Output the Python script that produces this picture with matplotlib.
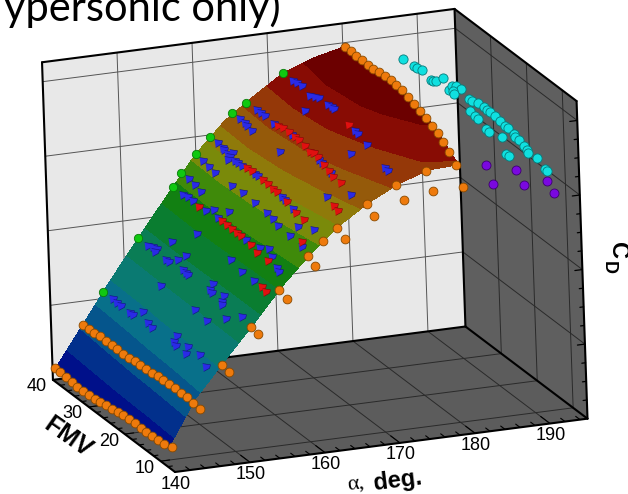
import numpy as np
import matplotlib
matplotlib.use('Agg')
import matplotlib.pyplot as plt
from matplotlib.patches import Polygon

# fitted surface, CD for each FMV row (low to high) and alpha column
alpha_grid = np.array([140.4, 144, 148, 152, 156, 160, 164, 168, 172, 176, 180])
fmv_grid = np.array([8, 16, 24, 32, 40])
cd_grid = np.array([
    [.15, .46, .70, .935, 1.18, 1.39, 1.565, 1.70, 1.805, 1.875, 1.885],
    [.13, .43, .69, .935, 1.19, 1.43, 1.62, 1.77, 1.88, 1.99, 2.05],
    [.12, .41, .68, .94, 1.21, 1.47, 1.67, 1.83, 1.96, 2.06, 2.125],
    [.10, .38, .66, .94, 1.22, 1.49, 1.70, 1.85, 1.99, 2.07, 2.11],
    [.08, .35, .65, .935, 1.21, 1.48, 1.69, 1.84, 1.977, 2.055, 2.105]])
band_levels = [0, .20, .34, .50, .66, .82, 1.0, 1.16, 1.30, 1.44, 1.56, 1.66, 1.78, 1.90, 2.03, 2.2]
band_colors = ['#00108a', '#02308c', '#05558c', '#08708a', '#0a7a72', '#0a7d55', '#0a7d30', '#128012',
               '#3f8a0a', '#7a8a0a', '#8f7a0a', '#955a0a', '#953808', '#880c04', '#6c0000']

blue_alpha = [171.9,171.9,172.0,171.6,171.9,172.1,170.0,172.2,172.3,172.3,172.3,172.3,172.2,170.2,172.0,172.0,167.2,167.2,167.1,165.1,167.1,161.8,165.1,165.0,164.9,164.8,166.9,166.9,166.9,166.8,167.1,165.0,162.0,161.9,161.8,161.7,162.0,161.6,161.2,161.5,161.6,161.6,161.8,161.9,162.0,162.0,161.9,159.9,159.8,159.6,158.1,157.9,157.8,159.7,159.8,159.8,159.9,159.9,159.7,161.0,159.8,156.8,156.9,156.8,156.8,157.3,157.9,157.0,157.1,157.3,157.8,154.9,153.3,151.9,152.1,
              152.1,159.8,151.9,151.9,151.9,152.4,153.1,157.4,155.0,154.9,157.0,156.8,152.0,152.0,152.0,154.9,150.0,152.6,152.1,152.0,152.4,151.9,151.7,147.1,147.0,147.0,146.9,146.9,147.5,147.0,146.9,150.0,149.9,151.0,151.9,147.4,146.9,146.7,147.2,146.7,147.2,146.7]
blue_fmv = [37.0,36.1,34.8,31.7,30.9,30.3,29.9,28.0,27.2,26.6,20.7,19.9,17.3,17.6,11.9,11.1,20.3,19.4,16.9,13.8,11.2,10.9,38.0,36.5,35.7,34.0,37.0,35.9,34.7,31.9,27.7,26.6,37.8,36.2,35.7,34.4,33.7,33.6,33.5,32.2,31.4,30.4,27.2,26.5,20.0,19.2,16.8,37.7,35.8,33.9,38.0,36.1,34.1,29.3,26.5,23.2,20.0,18.3,16.7,13.6,13.5,37.1,35.9,34.4,30.9,29.5,26.6,27.8,20.2,16.9,15.2,29.6,33.2,37.2,36.1,
            35.1,10.2,35.1,32.0,31.2,29.8,28.9,13.7,20.3,16.9,11.4,10.5,27.7,26.7,26.1,13.6,29.7,20.5,20.2,19.5,17.0,16.6,16.2,37.2,35.9,34.8,32.2,31.3,29.8,27.4,25.9,20.3,16.7,13.6,11.0,20.1,19.9,19.0,16.6,16.1,13.3,10.6]
blue_cd = [1.977,1.981,1.985,1.974,1.981,1.985,1.913,1.979,1.979,1.977,1.934,1.927,1.899,1.844,1.841,1.835,1.769,1.764,1.743,1.644,1.695,1.487,1.733,1.734,1.729,1.727,1.804,1.805,1.806,1.804,1.805,1.718,1.586,1.583,1.578,1.575,1.594,1.570,1.553,1.570,1.570,1.569,1.571,1.571,1.545,1.540,1.523,1.474,1.468,1.463,1.352,1.346,1.337,1.461,1.463,1.455,1.445,1.435,1.418,1.462,1.407,1.264,1.273,1.272,1.269,1.301,1.339,1.279,1.268,1.273,1.295,1.144,1.028,.931,.943,
           .948,1.392,.928,.930,.932,.970,1.013,1.270,1.137,1.118,1.239,1.228,.943,.940,.938,1.117,.803,.978,.943,.937,.961,.930,.918,.584,.581,.582,.583,.585,.632,.604,.597,.813,.806,.873,.930,.648,.613,.603,.639,.604,.646,.617]

red_alpha = [172.2,167.2,167.3,167.2,167.1,167.0,167.1,164.9,164.9,166.9,167.1,167.2,167.2,167.2,167.1,167.1,167.3,161.8,161.9,161.9,161.9,161.9,162.0,161.9,161.8,161.8,156.7,157.0,157.0,157.0,157.0,157.0,157.0,160.2,156.9,156.9,154.9,154.8]
red_fmv = [22.2,22.0,20.8,18.9,17.4,16.0,14.2,11.6,10.4,31.1,30.0,28.6,26.9,25.9,24.1,22.6,21.9,29.3,28.1,25.1,23.8,22.4,21.4,18.6,15.8,13.7,32.5,26.7,25.3,23.9,22.6,21.5,18.7,10.9,16.7,13.8,11.4,10.1]
red_cd = [1.947,1.785,1.779,1.760,1.747,1.731,1.723,1.623,1.612,1.805,1.809,1.809,1.805,1.803,1.796,1.783,1.787,1.574,1.575,1.568,1.565,1.557,1.554,1.537,1.514,1.504,1.267,1.278,1.276,1.275,1.272,1.270,1.261,1.412,1.244,1.242,1.116,1.108]

# orange: three rows at fixed alpha, then the low FMV edge and the points just off it
row180_fmv = [39.4,37.7,36.3,34.6,33.0,31.6,29.9,28.2,26.5,25.2,23.5,21.9,20.2,18.6,16.9,15.3,13.6,12.3,10.7,8.8]
row180_cd = [2.118,2.122,2.113,2.117,2.114,2.112,2.123,2.127,2.131,2.122,2.119,2.101,2.082,2.064,2.046,2.020,2.002,1.964,1.924,1.867]
row144_fmv = [39.5,37.8,36.4,34.7,33.1,31.4,30.0,28.3,26.7,25.0,23.6,21.9,20.2,18.5,17.1,15.5,13.8,12.1,10.4,8.8]
row144_cd = [.375,.379,.377,.389,.385,.389,.388,.384,.388,.399,.398,.401,.405,.417,.415,.419,.423,.419,.423,.412]
row140_fmv = [40.2,38.8,37.1,35.4,34.1,32.4,30.7,29.0,27.6,25.9,24.3,22.6,21.2,19.5,17.8,16.2,14.8,13.1,11.4,9.7,7.5]
row140_cd = [.079,.077,.074,.071,.062,.065,.069,.073,.079,.090,.094,.105,.111,.115,.119,.115,.114,.118,.121,.125,.148]
edge_alpha = [147.7,151.7,155.6,159.6,161.6,163.5,167.6,171.6,175.6]
edge_cd = [.674,.919,1.157,1.372,1.466,1.545,1.689,1.798,1.870]
off_alpha = [143.6,147.6,151.6,155.7,159.5,163.6,167.6,171.6,175.5,179.5]
off_cd = [.426,.663,.908,1.130,1.340,1.505,1.642,1.729,1.766,1.767]

green_alpha = [171.9,166.9,165.0,162.0,160.0,157.9,156.8,151.9,147.0]
green_cd = [1.976,1.796,1.738,1.587,1.479,1.357,1.265,0.933,0.580]

cyan_alpha = [187.9,188.3,188.4,188.6,188.8,188.9,189.0,189.3,189.4,189.6,189.7,189.9,189.6,189.6,190.1,190.2,190.4,190.6,190.7,190.8,191.0,191.1,191.3,191.4,191.6,191.6,191.7,191.9,192.0,192.0,192.3,192.5,192.6,190.1,190.3,190.4,190.6,190.7,191.1,191.2,191.3]
cyan_fmv = [39.9,37.8,37.0,36.1,34.2,33.7,33.0,31.8,30.4,29.9,29.0,28.0,29.5,29.3,26.2,25.6,24.3,23.1,22.4,21.8,20.8,19.8,18.8,18.1,17.0,16.5,15.8,14.7,14.2,13.8,12.2,10.4,10.1,26.0,25.0,24.4,22.6,22.2,19.4,18.4,18.0]
cyan_cd = [1.971,1.957,1.958,1.958,1.921,1.924,1.934,1.979,1.919,1.960,1.973,1.968,1.930,1.908,1.933,1.929,1.937,1.930,1.922,1.916,1.910,1.889,1.877,1.875,1.851,1.839,1.828,1.803,1.788,1.774,1.768,1.717,1.709,1.853,1.832,1.823,1.784,1.770,1.788,1.684,1.674]

purple_fmv = [21.8,13.1,19.9,11.2,4.6,2.5]
purple_cd = [1.546,1.675,1.447,1.608,1.767,1.719]

alpha_ticks = [140, 150, 160, 170, 180, 190]
fmv_ticks = [10, 20, 30, 40]
cd_ticks = [0.534, 1.068, 1.602, 2.136]
a0, a1 = 140, 195
f0, f1 = 6, 40
c0, c1 = 0, 2.275


def project(alpha, fmv, cd):
    # the box is drawn without perspective, so one fixed oblique mapping is enough
    a = np.asarray(alpha, float) - a0
    f = np.asarray(fmv, float) - f0
    c = np.asarray(cd, float)
    return 175 + 7.5*a - 3.59*f - 4.8*c, 472 - 0.97*a - 2.71*f - 139.6*c


plt.rcParams['font.family'] = ['Liberation Sans', 'DejaVu Sans']
fig = plt.figure(figsize=(6.28, 4.94), dpi=100)
ax = fig.add_axes([0, 0, 1, 1])
ax.set_xlim(0, 628)
ax.set_ylim(494, 0)
ax.axis('off')


def wall(pts, color):
    x, y = project(*np.array(pts, float).T)
    ax.add_patch(Polygon(np.c_[x, y], closed=True, fc=color, ec='none', zorder=1))


def line3(p, q, lw=0.7, color='#2a2a2a', z=2):
    x, y = project(*np.array([p, q], float).T)
    ax.plot(x, y, color=color, lw=lw, zorder=z, solid_capstyle='round')


wall([(a0, f1, c0), (a1, f1, c0), (a1, f1, c1), (a0, f1, c1)], '#e8e8e8')
wall([(a1, f0, c0), (a1, f1, c0), (a1, f1, c1), (a1, f0, c1)], '#5f5f5f')
wall([(a0, f0, c0), (a1, f0, c0), (a1, f1, c0), (a0, f1, c0)], '#5c5c5c')

for t in alpha_ticks[1:]:
    line3((t, f1, c0), (t, f1, c1), color='#555555')
    line3((t, f0, c0), (t, f1, c0))
for t in fmv_ticks[:-1]:
    line3((a1, t, c0), (a1, t, c1))
    line3((a0, t, c0), (a1, t, c0))
for t in cd_ticks:
    line3((a0, f1, t), (a1, f1, t), color='#555555')
    line3((a1, f0, t), (a1, f1, t))

# box outline
for p, q in [((a0, f1, c0), (a0, f1, c1)), ((a0, f1, c1), (a1, f1, c1)), ((a1, f1, c1), (a1, f0, c1)),
             ((a1, f1, c1), (a1, f1, c0)), ((a1, f0, c1), (a1, f0, c0)), ((a0, f1, c0), (a1, f1, c0)),
             ((a1, f1, c0), (a1, f0, c0)), ((a0, f0, c0), (a1, f0, c0)), ((a0, f0, c0), (a0, f1, c0))]:
    line3(p, q, lw=1.5, color='black', z=3)

# tick marks
for t in np.arange(142, 195, 2):
    n = 2.6 if t % 10 == 0 else 1.2
    line3((t, f0, c0), (t, f0+n, c0), lw=0.8, color='black', z=3)
for t in np.arange(8, 40, 2):
    n = 1.2 if t % 10 == 0 else 0.6
    line3((a0, t, c0), (a0+n, t, c0), lw=0.8, color='black', z=3)
for i in range(1, 17):
    n = 1.0 if i % 4 == 0 else 0.5
    line3((a1, f0, i*cd_ticks[0]/4), (a1-n, f0, i*cd_ticks[0]/4), lw=0.9, color='black', z=3)

A, F = np.meshgrid(alpha_grid, fmv_grid)
X, Y = project(A, F, cd_grid)
ax.contourf(X, Y, cd_grid, levels=band_levels, colors=band_colors, zorder=4)

cone = [(-1, 1), (1, 0.7), (0.8, -0.2), (-0.7, -1)]


def cones(alpha, fmv, cd, color, edge):
    x, y = project(alpha, fmv, cd)
    ax.scatter(x, y, s=32, c=color, marker=cone, edgecolors=edge, linewidths=0.4, zorder=5)


def spheres(alpha, fmv, cd, color, edge, size, z=6):
    x, y = project(alpha, fmv, cd)
    ax.scatter(x, y, s=size, c=color, edgecolors=edge, linewidths=0.6, zorder=z)


cones(blue_alpha, blue_fmv, blue_cd, '#2a2ae6', '#12127a')
cones(red_alpha, red_fmv, red_cd, '#e01010', '#7a0808')
for al, fm, cd in [(180.0, row180_fmv, row180_cd), (144.0, row144_fmv, row144_cd), (140.4, row140_fmv, row140_cd),
                   (edge_alpha, 8.0, edge_cd), (off_alpha, 6.0, off_cd)]:
    spheres(al, fm, cd, '#ee7a0c', '#8a4a00', 40)
spheres(green_alpha, 40.0, green_cd, '#10c810', '#0a7a0a', 36)
spheres(cyan_alpha, cyan_fmv, cyan_cd, '#10e0e0', '#067a7a', 44, z=7)
spheres(190.0, purple_fmv, purple_cd, '#7a08e0', '#3c0070', 42, z=7)

ax.text(281, 21, 'ypersonic only)', family=['Lato', 'DejaVu Sans'], fontsize=30, ha='right', va='baseline', color='black')

for t in alpha_ticks:
    x, y = project(t, f0, c0)
    ax.text(x+1, y+12, str(t), fontsize=13, ha='center', va='center')
for t in fmv_ticks:
    x, y = project(a0, t, c0)
    ax.text(x-16, y+7, str(t), fontsize=13, ha='center', va='center')
ax.text(68, 437, 'FMV', fontsize=18, fontweight='bold', rotation=-35, ha='center', va='center')
ax.text(356, 484, 'α,', family=['Liberation Serif'], fontsize=16, rotation=7, ha='center', va='center')
ax.text(398, 481, 'deg.', fontsize=17, fontweight='bold', rotation=7, ha='center', va='center')
ax.text(618, 250, 'C', fontsize=17, fontweight='bold', rotation=-90, ha='center', va='center')
ax.text(608, 267, 'D', fontsize=13, fontweight='bold', rotation=-90, ha='center', va='center')

fig.savefig('out.png', dpi=100)
